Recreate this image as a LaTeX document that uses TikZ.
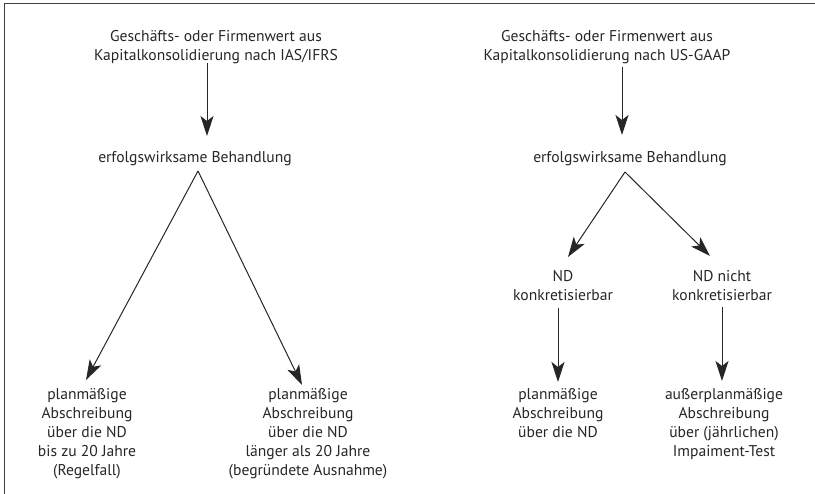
\documentclass[tikz,border=0pt]{standalone}
\usepackage{fontspec}
\setmainfont{PT Sans}
\usetikzlibrary{arrows.meta}
\begin{document}
\begin{tikzpicture}[x=1pt,y=-1pt,
  lbl/.style={align=center,font=\fontsize{15.6}{19}\selectfont,inner sep=0pt,text=black!85},
  arr/.style={line width=1pt,draw=black!85,-{Stealth[length=20pt,width=13pt,inset=5pt]}},
  ln/.style={line width=1pt,draw=black!85}]
\useasboundingbox (0,0) rectangle (815,494);
\draw[line width=1.5pt,black!75] (4.5,494) -- (4.5,3.5) -- (815,3.5);
% left column
\node[lbl] (t1) at (216,47) {Geschäfts- oder Firmenwert aus\\Kapitalkonsolidierung nach IAS/IFRS};
\node[lbl] (b1) at (195,159) {erfolgswirksame Behandlung};
\coordinate (a1) at (198,171);
\node[lbl,anchor=north] (l1) at (87,388) {planmäßige\\Abschreibung\\über die ND\\bis zu 20 Jahre\\(Regelfall)};
\node[lbl,anchor=north] (l2) at (308,388) {planmäßige\\Abschreibung\\über die ND\\länger als 20 Jahre\\(begründete Ausnahme)};
\coordinate (s1) at (207,63);
\coordinate (e1) at (207,136);
\coordinate (p1) at (86,380);
\coordinate (p2) at (302,385);
\draw[arr] (s1) -- (e1);
\draw[arr] (a1) -- (p1);
\draw[arr] (a1) -- (p2);
% right column
\node[lbl] (t2) at (607,47) {Geschäfts- oder Firmenwert aus\\Kapitalkonsolidierung nach US-GAAP};
\node[lbl] (b2) at (630,159) {erfolgswirksame Behandlung};
\coordinate (a2) at (625,172);
\node[lbl] (n1) at (563,285.5) {ND\\konkretisierbar};
\node[lbl] (n2) at (722,285.5) {ND nicht\\konkretisierbar};
\node[lbl,anchor=north] (r1) at (558,388) {planmäßige\\Abschreibung\\über die ND};
\node[lbl,anchor=north] (r2) at (724,388) {außerplanmäßige\\Abschreibung\\über (jährlichen)\\Impaiment-Test};
\coordinate (s2) at (622,67);
\coordinate (e2) at (622,135);
\coordinate (q1) at (568,257);
\coordinate (q2) at (710,256);
\coordinate (s3) at (558,308);
\coordinate (e3) at (558,382);
\coordinate (s4) at (722,307);
\coordinate (e4) at (722,381);
\draw[arr] (s2) -- (e2);
\draw[arr] (a2) -- (q1);
\draw[arr] (a2) -- (q2);
\draw[arr] (s3) -- (e3);
\draw[arr] (s4) -- (e4);
\end{tikzpicture}
\end{document}
